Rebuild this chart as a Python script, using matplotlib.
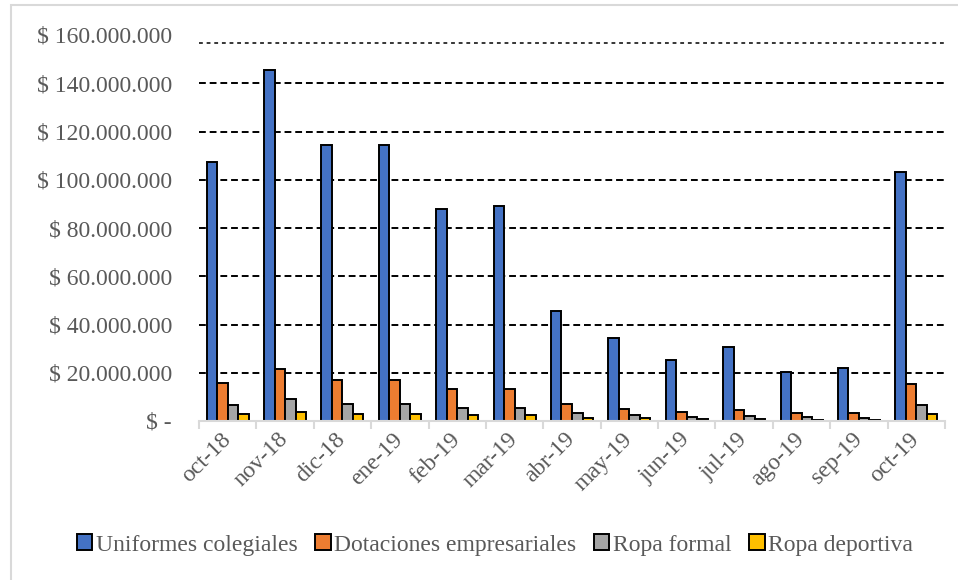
import matplotlib
matplotlib.use("Agg")
import matplotlib.pyplot as plt
import numpy as np
from matplotlib.patches import Rectangle
from matplotlib.ticker import FuncFormatter

months = ["oct-18", "nov-18", "dic-18", "ene-19", "feb-19", "mar-19", "abr-19",
          "may-19", "jun-19", "jul-19", "ago-19", "sep-19", "oct-19"]

uniformes = [107.2, 145.3, 114.6, 114.2, 87.8, 89.3, 45.6, 34.3, 25.3, 30.6, 20.3, 21.8, 103.2]
dotaciones = [15.7, 21.5, 17.0, 17.0, 13.2, 13.2, 7.0, 5.0, 3.7, 4.5, 3.3, 3.3, 15.3]
formal = [6.6, 9.1, 7.0, 7.0, 5.4, 5.4, 3.3, 2.4, 1.6, 2.0, 1.5, 1.3, 6.6]
deportiva = [2.9, 3.7, 2.9, 2.9, 2.3, 2.3, 1.2, 1.2, 0.8, 0.9, 0.6, 0.6, 2.9]

series = [
    ("Uniformes colegiales", uniformes, "#4472C4"),
    ("Dotaciones empresariales", dotaciones, "#ED7D31"),
    ("Ropa formal", formal, "#A5A5A5"),
    ("Ropa deportiva", deportiva, "#FFC000"),
]

yticks = [0, 20e6, 40e6, 60e6, 80e6, 100e6, 120e6, 140e6, 160e6]

plt.rcParams["font.family"] = ["Liberation Serif", "DejaVu Serif"]
text_color = "#595959"

fig = plt.figure(figsize=(9.58, 5.80), dpi=100)
fig.patches.append(Rectangle((11 / 958, -0.1), 1.2, 1 - 5 / 580 + 0.1,
                             transform=fig.transFigure, fill=False,
                             edgecolor="#D9D9D9", linewidth=1.5))

ax = fig.add_axes([199 / 958, 1 - 421 / 580, (945 - 199) / 958, (421 - 35) / 580])

x = np.arange(len(months))
width = 0.183
for i, (name, vals, color) in enumerate(series):
    offs = (i - 1.5) * width
    ax.bar(x + offs, np.array(vals) * 1e6, width, color=color, edgecolor="black",
           linewidth=1.4, label=name, zorder=3)

ax.set_xlim(-0.5, len(months) - 0.5)
ax.set_ylim(0, 160e6)

# dashed gridlines, the topmost one drawn finer
for v in yticks[1:-1]:
    ax.axhline(v, color="black", linewidth=1.4, linestyle=(0, (3.5, 2)), zorder=1)
ax.axhline(156.6e6, color="black", linewidth=1.1, linestyle=(0, (2.5, 2.5)), zorder=1)

for s in ["top", "right", "left"]:
    ax.spines[s].set_visible(False)
ax.spines["bottom"].set_color("#D9D9D9")
ax.spines["bottom"].set_linewidth(1.5)
ax.spines["bottom"].set_zorder(4)

def money(v, pos):
    if v == 0:
        return "$ -"
    return "$ " + f"{int(round(v)):,}".replace(",", ".")

ax.set_yticks(yticks)
ax.yaxis.set_major_formatter(FuncFormatter(money))
ax.tick_params(axis="y", length=0, pad=19.5, labelsize=17, labelcolor=text_color)

ax.set_xticks(x)
ax.set_xticklabels(months, rotation=45, ha="right", va="center", rotation_mode="anchor")
ax.set_xticks(np.arange(-0.5, len(months)), minor=True)
ax.tick_params(axis="x", which="major", length=0, pad=11, labelsize=17, labelcolor=text_color)
ax.tick_params(axis="x", which="minor", length=6, width=1.5, color="#D9D9D9", direction="out")

leg = fig.legend(loc="center", bbox_to_anchor=(495 / 958, 1 - 545 / 580), ncol=4,
                 frameon=False, fontsize=17, handlelength=0.65, handleheight=0.65,
                 handletextpad=0.15, columnspacing=0.75, labelcolor=text_color)

fig.savefig("out.png", dpi=100, facecolor="white")
